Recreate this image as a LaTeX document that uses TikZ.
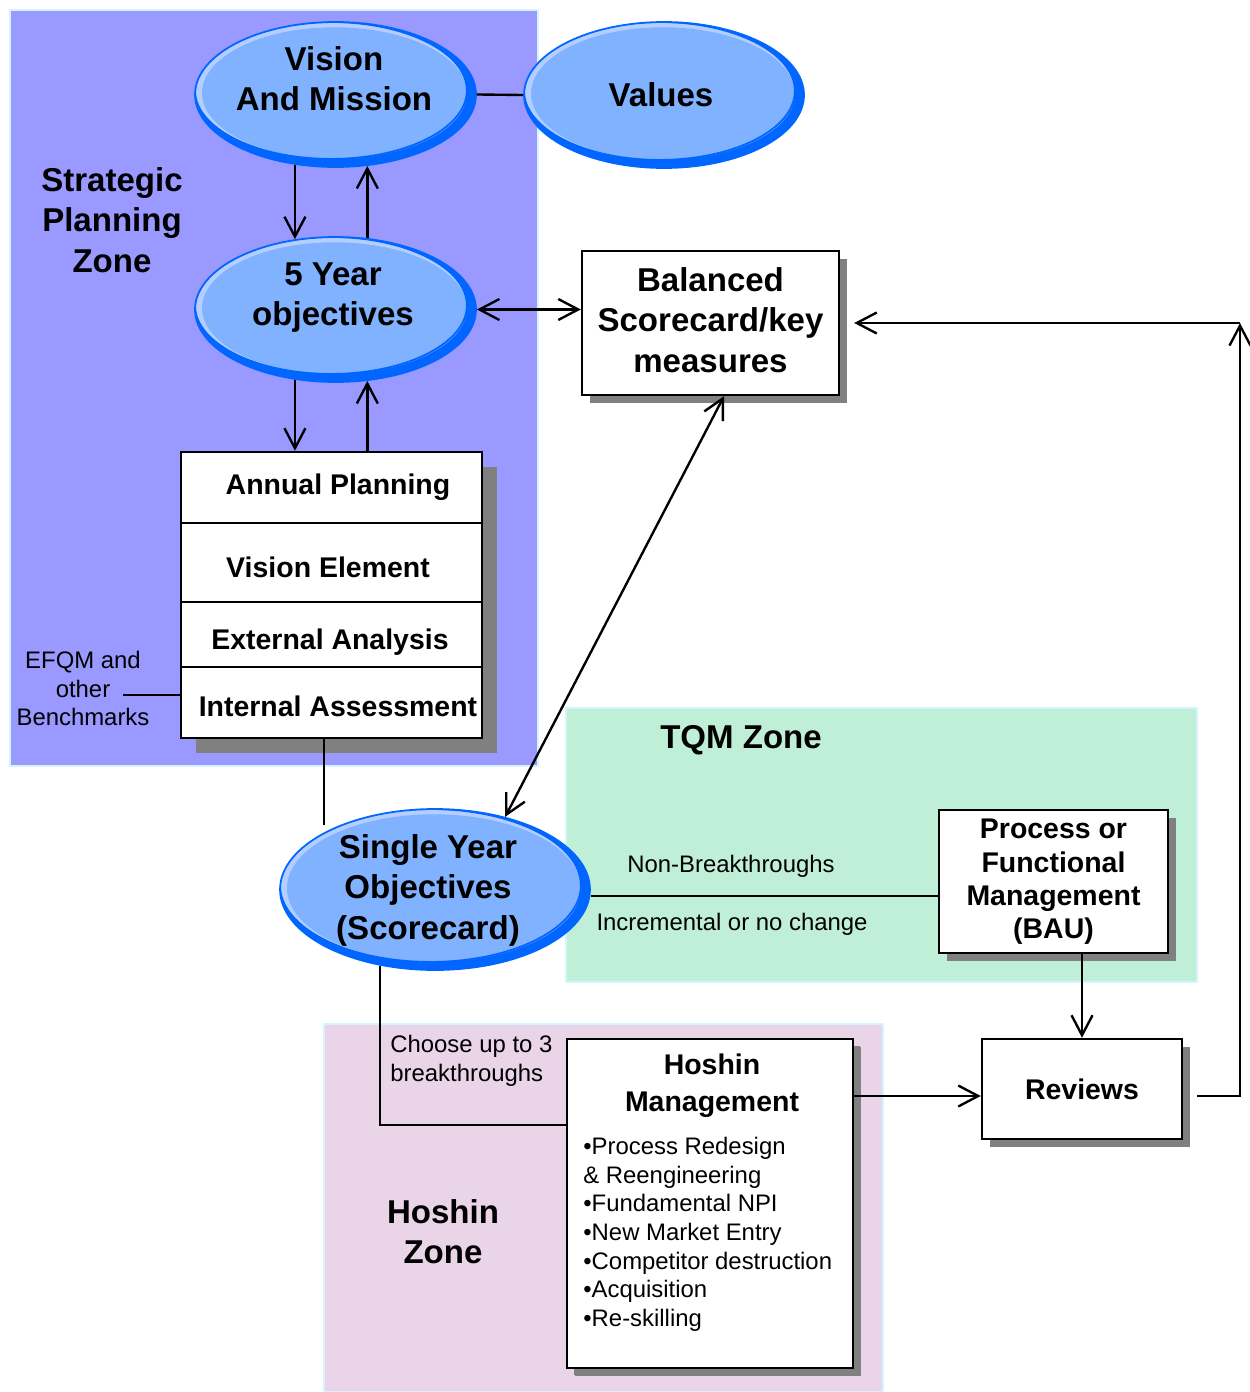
\documentclass[tikz,border=0pt]{standalone}
\usepackage{fontspec}
\setmainfont{Liberation Sans}
\usetikzlibrary{arrows.meta,shapes.geometric,shadows}
\definecolor{stratfill}{HTML}{9999FF}
\definecolor{tqmfill}{HTML}{C0EFD8}
\definecolor{hoshfill}{HTML}{E9D4E8}
\definecolor{zoneedge}{HTML}{D4F4FF}
\definecolor{ovalfill}{HTML}{80B2FF}
\definecolor{ovalhi}{HTML}{B3CEFF}
\definecolor{ovalborder}{HTML}{0066FF}
\definecolor{boxshadow}{HTML}{808080}
\begin{document}
\begin{tikzpicture}[x=0.02cm,y=-0.02cm,
  bigfont/.style={font=\fontsize{18.8pt}{23pt}\selectfont\bfseries},
  medfont/.style={font=\fontsize{16.2pt}{19pt}\selectfont\bfseries},
  smfont/.style={font=\fontsize{13.6pt}{16.3pt}\selectfont},
  lbl/.style={inner sep=0pt, align=center},
  zone/.style={draw=zoneedge, line width=1.4pt},
  oval/.style 2 args={ellipse, minimum width=#1, minimum height=#2, inner sep=0pt,
    draw=ovalborder, line width=1pt, fill=ovalborder,
    path picture={
      \fill[ovalhi] ([shift={(-2.6pt,2.3pt)}]path picture bounding box.center)
        ellipse [x radius={#1/2-2.6pt}, y radius={#2/2-2.3pt}];
      \fill[ovalfill] ([shift={(-0.6pt,0.8pt)}]path picture bounding box.center)
        ellipse [x radius={#1/2-4.6pt}, y radius={#2/2-3.8pt}];
      \draw[ovalborder, line width=1pt] ([shift={(-2.6pt,2.3pt)}]path picture bounding box.center)
        ellipse [x radius={#1/2-2.6pt}, y radius={#2/2-2.3pt}];
    }},
  box/.style={draw=black, line width=1.4pt, fill=white, inner sep=2pt, align=center,
    drop shadow={shadow xshift=4.5pt, shadow yshift=-4.5pt, opacity=1, fill=boxshadow}},
  row/.style={draw=black, line width=1.4pt, fill=white, inner sep=2pt, minimum width=6.02cm},
  rowtext/.style={lbl, medfont},
  ln/.style={line width=1.35pt},
  arr/.style={-{Straight Barb[length=0.4cm,width=0.42cm]}, line width=1.35pt},
  arrb/.style={{Straight Barb[length=0.4cm,width=0.42cm]}-{Straight Barb[length=0.4cm,width=0.42cm]}, line width=1.35pt}
]
\useasboundingbox (0,0) rectangle (1249,1392);
\fill[white] (0,0) rectangle (1249,1392);

% zones
\filldraw[zone, fill=stratfill] (10,10) rectangle (538,766);
\filldraw[zone, fill=tqmfill] (566,708) rectangle (1197,982);
\filldraw[zone, fill=hoshfill] (324,1024) rectangle (883,1392);

% shadow of the annual planning stack
\fill[boxshadow] (196,467) rectangle (497,753);

% ellipses
\node[oval={5.62cm}{2.9cm}] (vm) at (335.5,94.5) {};
\node[oval={5.6cm}{2.92cm}] (val) at (664,95) {};
\node[oval={5.62cm}{2.9cm}] (fy) at (335.5,309.5) {};
\node[oval={6.2cm}{3.22cm}] (sy) at (435,889.5) {};

\node[lbl, bigfont, anchor=north] (vmt) at (334,46) {Vision\\And Mission};
\node[lbl, bigfont, anchor=north] (valt) at (661,82) {Values};
\node[lbl, bigfont, anchor=north] (fyt) at (333,262) {5 Year\\objectives};
\node[lbl, bigfont, anchor=north] (syt) at (428,834) {Single Year\\Objectives\\(Scorecard)};

% zone titles
\node[lbl, bigfont, anchor=north] (spz) at (112,167) {Strategic\\Planning\\Zone};
\node[lbl, bigfont, anchor=north] (tqm) at (741,725) {TQM Zone};
\node[lbl, bigfont, anchor=north] (hz) at (443,1199) {Hoshin\\Zone};

% boxes
\node[box, bigfont, minimum width=5.14cm, minimum height=2.88cm, text depth=0.12cm] (bsc) at (710.5,323) {Balanced\\Scorecard/key\\measures};

\node[row, minimum height=1.42cm, label={[rowtext, shift={(0.13cm,0cm)}]center:Annual Planning}] (ap1) at (331.5,487.5) {};
\node[row, minimum height=1.58cm, label={[rowtext, shift={(-0.07cm,-0.09cm)}]center:Vision Element}] (ap2) at (331.5,562.5) {};
\node[row, minimum height=1.3cm, label={[rowtext, shift={(-0.03cm,-0.15cm)}]center:External Analysis}] (ap3) at (331.5,634.5) {};
\node[row, minimum height=1.42cm, label={[rowtext, shift={(0.13cm,-0.07cm)}]center:Internal Assessment}] (ap4) at (331.5,702.5) {};

\node[box, medfont, minimum width=4.58cm, minimum height=2.86cm, text depth=0.1cm] (pfm) at (1053.5,881.5) {Process or\\Functional\\Management\\(BAU)};

\node[box, minimum width=5.72cm, minimum height=6.58cm, drop shadow={shadow xshift=3.8pt, shadow yshift=-3.8pt, opacity=1, fill=boxshadow}] (hm) at (710,1203.5) {};
\node[lbl, font=\fontsize{16.2pt}{21pt}\selectfont\bfseries, anchor=north] (hmt) at (712,1054) {Hoshin\\Management};
\node[lbl, smfont, align=left, anchor=north west] (hmb) at (583,1137) {•Process Redesign\\\& Reengineering\\•Fundamental NPI\\•New Market Entry\\•Competitor destruction\\•Acquisition\\•Re-skilling};

\node[box, medfont, minimum width=4cm, minimum height=2cm] (rev) at (1082,1089) {Reviews};

% small labels
\node[lbl, smfont] (nb) at (731,866) {Non-Breakthroughs};
\node[lbl, smfont] (inc) at (732,924) {Incremental or no change};
\node[lbl, smfont, align=left, anchor=north west] (ch) at (390,1035) {Choose up to 3\\breakthroughs};
\node[lbl, smfont, anchor=north] (ef) at (83,651) {EFQM and\\other\\Benchmarks};

% connectors
\draw[ln] (vm.east) -- (val.west);
\draw[arr] (vm.240) -- (fy.120);
\draw[arr] (fy.66) -- (vm.294);
\draw[arrb] (fy.east) -- (fy.east -| bsc.west);
\draw[arr] (fy.240) -- (ap1.north -| fy.240);
\draw[arr] (ap1.north -| fy.294) -- (fy.294);
\coordinate (sytop) at (324,825);
\draw[ln] (ap4.south -| sytop) -- (sytop);
\draw[arrb] (bsc.south -| 724,0) -- (sy.46);
\coordinate (efq) at (123,695);
\draw[ln] (efq) -- (ap4.west |- efq);
\draw[ln] (sy.east |- 0,896) -- (pfm.west |- 0,896);
\draw[ln] (sy.234) |- (hm.west |- 0,1125);
\draw[arr] (pfm.south -| 1082,0) -- (rev.north -| 1082,0);
\draw[arr] (hm.east |- 0,1096) -- (rev.west |- 0,1096);
\coordinate (corner) at (1240,323);
\draw[arr, shorten <=0.28cm] (rev.east |- 0,1096) -| (corner);
\draw[arr, shorten >=0.28cm] (corner) -- (bsc.east |- corner);
\end{tikzpicture}
\end{document}
